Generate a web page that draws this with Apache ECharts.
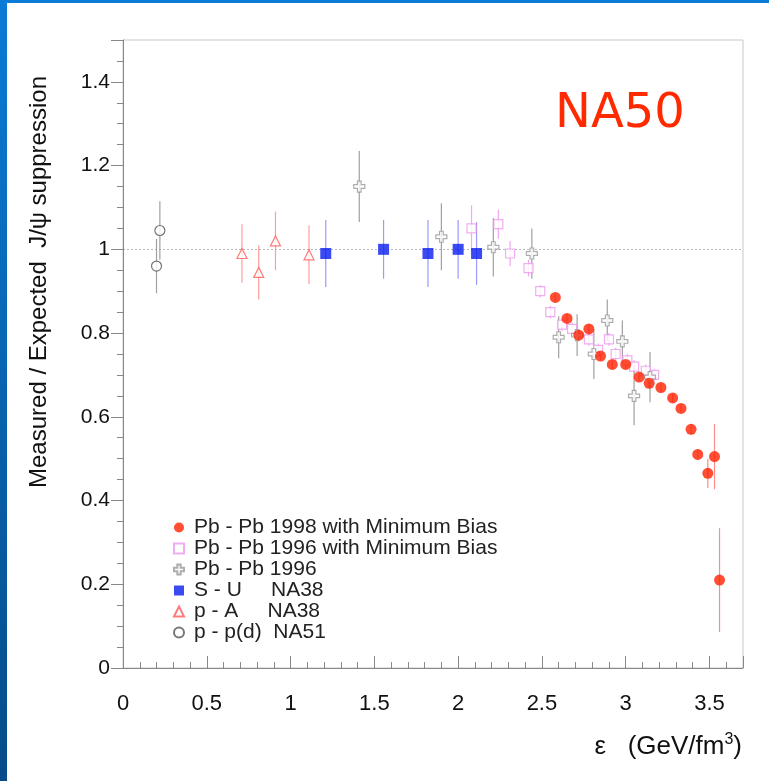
<!DOCTYPE html>
<html>
<head>
<meta charset="utf-8">
<title>NA50 J/psi suppression</title>
<script src="https://cdn.jsdelivr.net/npm/echarts@6/dist/echarts.min.js"></script>
<style>
  html, body { margin: 0; padding: 0; background: #fff; }
  #chart { width: 769px; height: 781px; }
</style>
</head>
<body>
<div id="chart"></div>
<script>
// Pb - Pb 1998 with Minimum Bias
const pb98X = [2.58, 2.65, 2.72, 2.78, 2.85, 2.92, 3.00, 3.08, 3.14, 3.21, 3.28, 3.33, 3.39, 3.43, 3.49, 3.53, 3.56]
const pb98Y = [0.885, 0.835, 0.795, 0.81, 0.745, 0.725, 0.725, 0.695, 0.68, 0.67, 0.645, 0.62, 0.57, 0.51, 0.465, 0.505, 0.21]
const pb98Err = [0.01, 0.01, 0.01, 0.01, 0.01, 0.01, 0.01, 0.01, 0.01, 0.01, 0.01, 0.01, 0.012, 0.013, 0.035, 0.078, 0.124]

// Pb - Pb 1996 with Minimum Bias
const pb96mbX = [2.08, 2.24, 2.31, 2.42, 2.49, 2.55, 2.62, 2.68, 2.78, 2.835, 2.90, 2.94, 3.01, 3.05, 3.12, 3.17]
const pb96mbY = [1.05, 1.06, 0.99, 0.955, 0.90, 0.85, 0.82, 0.81, 0.785, 0.76, 0.785, 0.75, 0.735, 0.72, 0.71, 0.70]
const pb96mbErr = [0.055, 0.035, 0.03, 0.02, 0.015, 0.015, 0.015, 0.015, 0.015, 0.015, 0.015, 0.015, 0.015, 0.015, 0.015, 0.015]

// Pb - Pb 1996
const pb96X = [1.41, 1.90, 2.21, 2.44, 2.60, 2.71, 2.81, 2.89, 2.98, 3.05, 3.145]
const pb96Y = [1.15, 1.03, 1.005, 0.99, 0.79, 0.795, 0.75, 0.83, 0.78, 0.65, 0.695]
const pb96Err = [0.085, 0.08, 0.07, 0.06, 0.05, 0.05, 0.06, 0.05, 0.05, 0.07, 0.06]

// S - U NA38
const suX = [1.21, 1.555, 1.82, 2.0, 2.11]
const suY = [0.99, 1.0, 0.99, 1.0, 0.99]
const suErr = [0.08, 0.07, 0.08, 0.07, 0.075]

// p - A NA38
const paX = [0.71, 0.81, 0.91, 1.11]
const paY = [0.99, 0.945, 1.02, 0.987]
const paErr = [0.07, 0.065, 0.07, 0.07]

// p - p(d) NA51
const ppX = [0.20, 0.22]
const ppY = [0.96, 1.045]
const ppErr = [0.065, 0.07]

const xTicks = [0, 0.5, 1, 1.5, 2, 2.5, 3, 3.5]
const yTicks = [0, 0.2, 0.4, 0.6, 0.8, 1, 1.2, 1.4]

const names = [
  'Pb - Pb 1998 with Minimum Bias',
  'Pb - Pb 1996 with Minimum Bias',
  'Pb - Pb 1996',
  'S - U     NA38',
  'p - A     NA38',
  'p - p(d)  NA51'
]

const font = '"Liberation Sans", Arial, Helvetica, sans-serif'
const crossPath = 'path://M1,0L2,0L2,1L3,1L3,2L2,2L2,3L1,3L1,2L0,2L0,1L1,1Z'

function points(xs, ys) {
  return xs.map((x, i) => [x, ys[i]])
}

function bars(xs, ys, errs) {
  return xs.map((x, i) => [x, ys[i] - errs[i], ys[i] + errs[i]])
}

function errorSeries(name, xs, ys, errs, color) {
  return {
    name: name,
    type: 'custom',
    z: 1,
    silent: true,
    data: bars(xs, ys, errs),
    renderItem(params, api) {
      const lo = api.coord([api.value(0), api.value(1)])
      const hi = api.coord([api.value(0), api.value(2)])
      return {
        type: 'line',
        shape: { x1: lo[0], y1: lo[1], x2: hi[0], y2: hi[1] },
        style: { stroke: color, lineWidth: 1.2 }
      }
    }
  }
}

const chart = echarts.init(document.getElementById('chart'))

chart.setOption({
  animation: false,
  backgroundColor: '#fff',
  textStyle: { fontFamily: font },
  graphic: [
    {
      type: 'rect',
      shape: { x: 0, y: 0, width: 7, height: 781 },
      style: {
        fill: new echarts.graphic.LinearGradient(0, 0, 0, 1, [
          { offset: 0, color: '#0a7bd6' },
          { offset: 1, color: '#064c88' }
        ])
      }
    },
    {
      type: 'rect',
      shape: { x: 0, y: 0, width: 769, height: 3 },
      style: { fill: '#0a7bd6' }
    },
    {
      type: 'text',
      x: 39,
      y: 282,
      rotation: Math.PI / 2,
      style: {
        text: 'Measured / Expected  J/ψ suppression',
        font: '24px ' + font,
        fill: '#111',
        align: 'center',
        verticalAlign: 'middle'
      }
    },
    {
      type: 'text',
      x: 742,
      y: 747,
      style: {
        text: 'ε   (GeV/fm{sup|3})',
        font: '26px ' + font,
        fill: '#111',
        align: 'right',
        verticalAlign: 'middle',
        rich: {
          sup: { fontSize: 16, fontFamily: font, padding: [0, 0, 15, 0] }
        }
      }
    },
    {
      type: 'text',
      x: 555,
      y: 115,
      style: {
        text: 'NA50',
        font: '48px "DejaVu Sans", sans-serif',
        fill: '#ff2a00',
        align: 'left',
        verticalAlign: 'middle'
      }
    }
  ],
  grid: {
    left: 123,
    top: 40,
    right: 26,
    bottom: 113,
    show: true,
    borderColor: '#c8c8c8',
    borderWidth: 1
  },
  legend: {
    orient: 'vertical',
    left: 168,
    top: 512,
    itemWidth: 10,
    itemHeight: 10,
    itemGap: 0,
    data: names,
    textStyle: {
      fontFamily: font,
      fontSize: 21,
      lineHeight: 21,
      padding: [0, 0, 0, 5],
      color: '#222'
    }
  },
  xAxis: {
    type: 'value',
    min: 0,
    max: 3.7,
    interval: 0.5,
    axisLine: { lineStyle: { color: '#888' } },
    axisTick: { inside: true, length: 12, lineStyle: { color: '#888' } },
    minorTick: { show: true, splitNumber: 5, length: 6, lineStyle: { color: '#888' } },
    splitLine: { show: false },
    axisLabel: {
      margin: 25,
      fontSize: 22,
      color: '#111',
      fontFamily: font,
      showMaxLabel: false,
      formatter: v => (xTicks.indexOf(v) >= 0 ? String(v) : '')
    }
  },
  yAxis: {
    type: 'value',
    min: 0,
    max: 1.5,
    interval: 0.2,
    axisLine: { show: true, lineStyle: { color: '#888' } },
    axisTick: { show: true, length: 12, lineStyle: { color: '#888' } },
    minorTick: { show: true, splitNumber: 4, length: 6, lineStyle: { color: '#888' } },
    splitLine: { show: false },
    axisLabel: {
      margin: 13,
      fontSize: 21,
      color: '#111',
      fontFamily: font,
      showMaxLabel: false,
      formatter: v => (yTicks.indexOf(v) >= 0 ? String(v) : '')
    }
  },
  series: [
    Object.assign(errorSeries('err-pb96mb', pb96mbX, pb96mbY, pb96mbErr, '#f0a8f0'), {
      markLine: {
        silent: true,
        z: 0,
        symbol: 'none',
        label: { show: false },
        lineStyle: { type: [2, 2], color: '#b8b8b8', width: 1 },
        data: [{ yAxis: 1 }]
      }
    }),
    errorSeries('err-pb96', pb96X, pb96Y, pb96Err, '#a0a0a0'),
    errorSeries('err-pb98', pb98X, pb98Y, pb98Err, '#ff8c8c'),
    errorSeries('err-su', suX, suY, suErr, '#9a9aff'),
    errorSeries('err-pa', paX, paY, paErr, '#ff9c9c'),
    errorSeries('err-pp', ppX, ppY, ppErr, '#a0a0a0'),
    {
      name: names[1],
      type: 'scatter',
      z: 2,
      symbol: 'rect',
      symbolSize: 9,
      itemStyle: { color: '#fff', borderColor: '#ee99ee', borderWidth: 1.2 },
      data: points(pb96mbX, pb96mbY)
    },
    {
      name: names[2],
      type: 'scatter',
      z: 3,
      symbol: crossPath,
      symbolSize: 11,
      itemStyle: { color: '#fff', borderColor: '#999', borderWidth: 1.2 },
      data: points(pb96X, pb96Y)
    },
    {
      name: names[0],
      type: 'scatter',
      z: 4,
      symbol: 'circle',
      symbolSize: 11,
      itemStyle: { color: '#ff2200' },
      data: points(pb98X, pb98Y)
    },
    {
      name: names[3],
      type: 'scatter',
      z: 4,
      symbol: 'rect',
      symbolSize: 11,
      itemStyle: { color: '#0a1ef0' },
      data: points(suX, suY)
    },
    {
      name: names[4],
      type: 'scatter',
      z: 4,
      symbol: 'triangle',
      symbolSize: 10,
      itemStyle: { color: '#fff', borderColor: '#ff5a5a', borderWidth: 1.2 },
      data: points(paX, paY)
    },
    {
      name: names[5],
      type: 'scatter',
      z: 4,
      symbol: 'circle',
      symbolSize: 10,
      itemStyle: { color: '#fff', borderColor: '#555', borderWidth: 1.2 },
      data: points(ppX, ppY)
    }
  ]
})
</script>
</body>
</html>
